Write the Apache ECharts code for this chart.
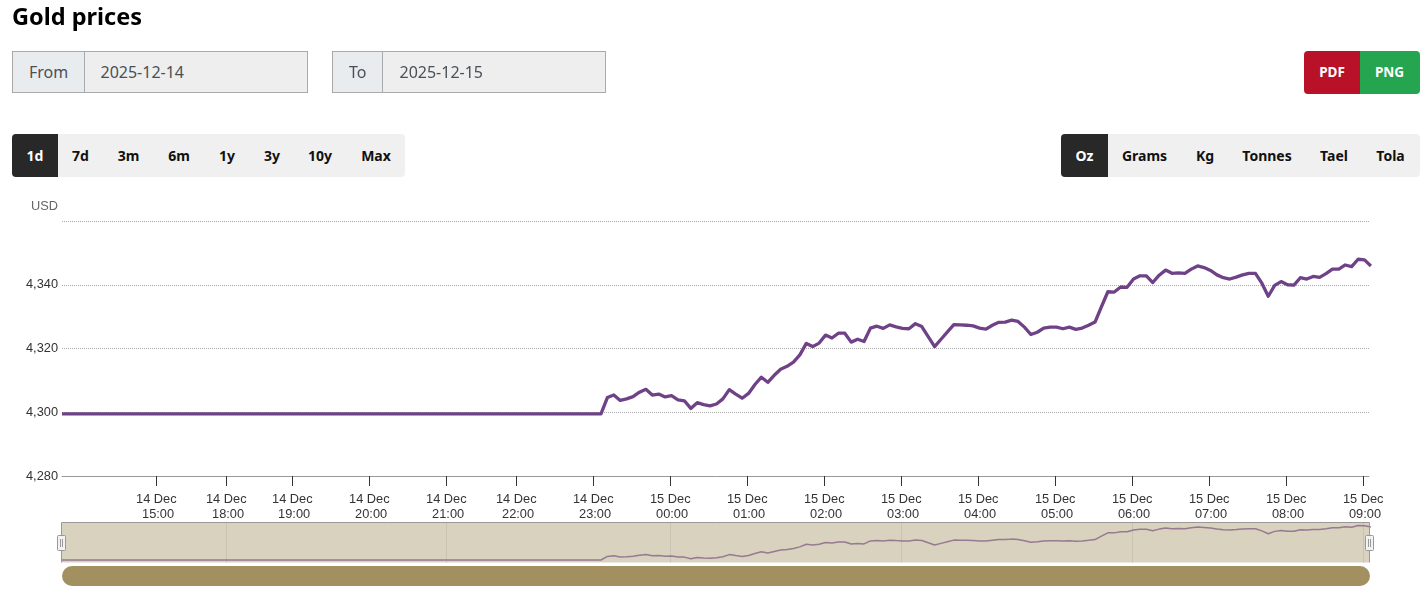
<!DOCTYPE html>
<html><head><meta charset="utf-8">
<style>
html,body{margin:0;padding:0;background:#fff;width:1428px;height:592px;overflow:hidden;font-family:"Noto Sans",sans-serif}
#chart{position:absolute;left:0;top:0;width:1428px;height:592px}
.abs{position:absolute;box-sizing:border-box}
.c{position:absolute;transform:translate(-50%,-50%);white-space:nowrap;font-weight:700;font-size:14px;color:#111}
.f{position:absolute;transform:translateY(-50%);white-space:nowrap;font-size:16px;color:#495057}
</style></head><body>
<div id="chart"></div>
<div id="ui"></div>
<script src="https://cdn.jsdelivr.net/npm/echarts@6/dist/echarts.min.js"></script>
<script>
const priceValues = [
4299.5,4299.5,4299.5,4299.5,4299.5,4299.5,4299.5,4299.5,4299.5,4299.5,4299.5,4299.5,
4299.5,4299.5,4299.5,4299.5,4299.5,4299.5,4299.5,4299.5,4299.5,4299.5,4299.5,4299.5,
4299.5,4299.5,4299.5,4299.5,4299.5,4299.5,4299.5,4299.5,4299.5,4299.5,4299.5,4299.5,
4299.5,4299.5,4299.5,4299.5,4299.5,4299.5,4299.5,4299.5,4299.5,4299.5,4299.5,4299.5,
4299.5,4299.5,4299.5,4299.5,4299.5,4299.5,4299.5,4299.5,4299.5,4299.5,4299.5,4299.5,
4299.5,4299.5,4299.5,4299.5,4299.5,4299.5,4299.5,4299.5,4299.5,4299.5,4299.5,4299.5,
4299.5,4299.5,4299.5,4299.5,4299.5,4299.5,4299.5,4299.5,4299.5,4299.5,4299.5,4299.5,
4299.5,4304.6,4305.4,4303.7,4304.2,4304.9,4306.3,4307.2,4305.4,4305.7,
4304.8,4305.2,4303.9,4303.6,4301.2,4303.0,4302.4,4302.0,4302.6,4304.2,
4307.1,4305.7,4304.4,4305.9,4308.7,4311.0,4309.4,4311.6,4313.5,4314.4,
4315.7,4318.0,4321.6,4320.6,4321.7,4324.2,4323.3,4324.8,4324.8,4322.0,
4322.9,4322.2,4326.4,4327.0,4326.3,4327.4,4326.8,4326.3,4326.2,4327.8,
4326.9,4323.7,4320.6,4322.9,4325.2,4327.5,4327.4,4327.3,4327.1,4326.4,
4326.1,4327.3,4328.2,4328.3,4328.9,4328.5,4326.7,4324.4,4325.1,4326.4,
4326.7,4326.7,4326.2,4326.7,4326.0,4326.4,4327.3,4328.3,4333.1,4337.8,
4337.7,4339.3,4339.2,4341.8,4342.8,4342.8,4340.7,4343.0,4344.6,4343.6,
4343.7,4343.6,4344.9,4345.9,4345.4,4344.5,4343.1,4342.2,4341.8,4342.4,
4343.1,4343.6,4343.6,4340.5,4336.4,4339.8,4341.0,4340.0,4339.9,4342.2,
4341.8,4342.6,4342.3,4343.5,4344.9,4344.9,4346.2,4345.7,4348.0,4347.8,
4345.9];
const tickPositions = [14.7,25.6,35.9,47.9,59.9,70.8,82.8,94.8,106.8,118.8,130.8,142.8,154.8,166.8,178.8,190.8,202.8];
const tickLabels = ['14 Dec\n 15:00','14 Dec\n 18:00','14 Dec\n 19:00','14 Dec\n 20:00','14 Dec\n 21:00','14 Dec\n 22:00','14 Dec\n 23:00','15 Dec\n 00:00','15 Dec\n 01:00','15 Dec\n 02:00','15 Dec\n 03:00','15 Dec\n 04:00','15 Dec\n 05:00','15 Dec\n 06:00','15 Dec\n 07:00','15 Dec\n 08:00','15 Dec\n 09:00'];
const navigatorGridPositions = [25.6,59.9,94.8,130.8,166.8,202.8];
const yTicks = [4280,4300,4320,4340];
const rangeButtons = [['1d',35],['7d',80.5],['3m',128.5],['6m',179],['1y',227],['3y',272],['10y',320],['Max',376]];
const unitButtons = [['Oz',1084.5],['Grams',1144.5],['Kg',1205],['Tonnes',1267],['Tael',1334],['Tola',1390.5]];

const ui = document.getElementById('ui');
function box(l,t,w,h,css,html){const d=document.createElement('div');d.className='abs';d.style.cssText+=`left:${l}px;top:${t}px;width:${w}px;height:${h}px;`+(css||'');if(html)d.innerHTML=html;ui.appendChild(d);return d;}
function txt(cls,x,y,s,css){const d=document.createElement('div');d.className=cls;d.style.cssText+=`left:${x}px;top:${y}px;`+(css||'');d.textContent=s;ui.appendChild(d);}
txt('f',12,16,'Gold prices','font-size:23.5px;font-weight:700;color:#000');
box(12,51,296,42,'background:#eee;border:1px solid #aaa');
box(12,51,73,42,'background:#e9ecef;border:1px solid #aaa');
txt('f',29,72,'From');txt('f',100.5,72,'2025-12-14');
box(332,51,274,42,'background:#eee;border:1px solid #aaa');
box(332,51,51,42,'background:#e9ecef;border:1px solid #aaa');
txt('f',349,72,'To');txt('f',399.5,72,'2025-12-15');
box(1304,51,56,43,'background:#b91127;border-radius:4px 0 0 4px');
box(1360,51,60,43,'background:#25a550;border-radius:0 4px 4px 0');
txt('c',1332,71.5,'PDF','color:#fff;font-size:13.5px');txt('c',1389.5,71.5,'PNG','color:#fff;font-size:13.5px');
box(12,134,393,43,'background:#f0f0f0;border-radius:4px');
box(12,134,46,43,'background:#282828;border-radius:4px 0 0 4px');
rangeButtons.forEach((b,i)=>txt('c',b[1],154.5,b[0],i===0?'color:#fff':''));
box(1061,134,359,43,'background:#f0f0f0;border-radius:4px');
box(1061,134,47,43,'background:#282828;border-radius:4px 0 0 4px');
unitButtons.forEach((b,i)=>txt('c',b[1],154.5,b[0],i===0?'color:#fff':''));

const points = priceValues.map((v,i)=>[i,v]);
const xMax = 203.7;
const chart = echarts.init(document.getElementById('chart'),null,{renderer:'canvas'});
chart.setOption({
  animation:false,
  grid:[
    {left:62,right:59,top:221,height:255,containLabel:false},
    {left:62,right:59,top:522,height:40.5,show:true,backgroundColor:'#d9d2bf',borderWidth:0}
  ],
  xAxis:[
    {type:'value',gridIndex:0,min:0,max:xMax,
     axisLine:{onZero:false,lineStyle:{color:'#999',width:1}},
     axisTick:{show:true,length:10,customValues:tickPositions,lineStyle:{color:'#333',width:1}},
     axisLabel:{show:true,customValues:tickPositions,margin:16,lineHeight:15,color:'#333',fontSize:12.8,fontFamily:'"Liberation Sans",Arial,sans-serif',hideOverlap:false,
       formatter:v=>{let k=0,b=1e9;tickPositions.forEach((p,i)=>{const d=Math.abs(p-v);if(d<b){b=d;k=i;}});return tickLabels[k];}},
     splitLine:{show:false}},
    {type:'value',gridIndex:1,min:0,max:xMax,
     axisLine:{show:false},
     axisTick:{show:false,customValues:navigatorGridPositions},
     axisLabel:{show:false,customValues:navigatorGridPositions},
     splitLine:{show:true,lineStyle:{color:'#c9c3b1',width:1}}}
  ],
  yAxis:[
    {type:'value',gridIndex:0,min:4280,max:4360,interval:20,
     name:'USD',nameLocation:'end',nameGap:8,
     nameTextStyle:{align:'right',color:'#666',fontSize:12.8,fontFamily:'"Liberation Sans",Arial,sans-serif',padding:[0,4,0,0]},
     axisLine:{show:false},axisTick:{show:false},
     axisLabel:{margin:4,color:'#333',fontSize:12.8,fontFamily:'"Liberation Sans",Arial,sans-serif',
       formatter:v=>yTicks.includes(v)?v.toLocaleString('en-US'):''},
     splitLine:{show:true,lineStyle:{color:'#aaa',type:'dotted',width:1}}},
    {type:'value',gridIndex:1,min:4296,max:4353,show:true,
     axisLine:{show:false},axisTick:{show:false},axisLabel:{show:false},splitLine:{show:false}}
  ],
  series:[
    {type:'line',xAxisIndex:0,yAxisIndex:0,data:points,showSymbol:false,symbol:'none',
     lineStyle:{color:'#6f4288',width:3.3,join:'round'},clip:true},
    {type:'line',xAxisIndex:1,yAxisIndex:1,data:points,showSymbol:false,symbol:'none',
     lineStyle:{color:'#957a92',width:1.5},clip:true}
  ],
  graphic:[
    {type:'polyline',silent:true,z:50,shape:{points:[[61.5,562.5],[61.5,522.5],[1369.5,522.5],[1369.5,562.5]]},style:{stroke:'#999',fill:null,lineWidth:1}},
    {type:'rect',silent:true,z:51,shape:{x:57.5,y:535.5,width:8,height:15,r:1},style:{fill:'#f2f2f2',stroke:'#999',lineWidth:1}},
    {type:'line',silent:true,z:52,shape:{x1:60.5,y1:539,x2:60.5,y2:547},style:{stroke:'#999',lineWidth:1}},
    {type:'line',silent:true,z:52,shape:{x1:62.5,y1:539,x2:62.5,y2:547},style:{stroke:'#999',lineWidth:1}},
    {type:'rect',silent:true,z:51,shape:{x:1365.5,y:535.5,width:8,height:15,r:1},style:{fill:'#f2f2f2',stroke:'#999',lineWidth:1}},
    {type:'line',silent:true,z:52,shape:{x1:1368.5,y1:539,x2:1368.5,y2:547},style:{stroke:'#999',lineWidth:1}},
    {type:'line',silent:true,z:52,shape:{x1:1370.5,y1:539,x2:1370.5,y2:547},style:{stroke:'#999',lineWidth:1}},
    {type:'rect',silent:true,z:50,shape:{x:62,y:566,width:1308,height:20,r:10},style:{fill:'#a39060'}}
  ]
});
</script></body></html>
